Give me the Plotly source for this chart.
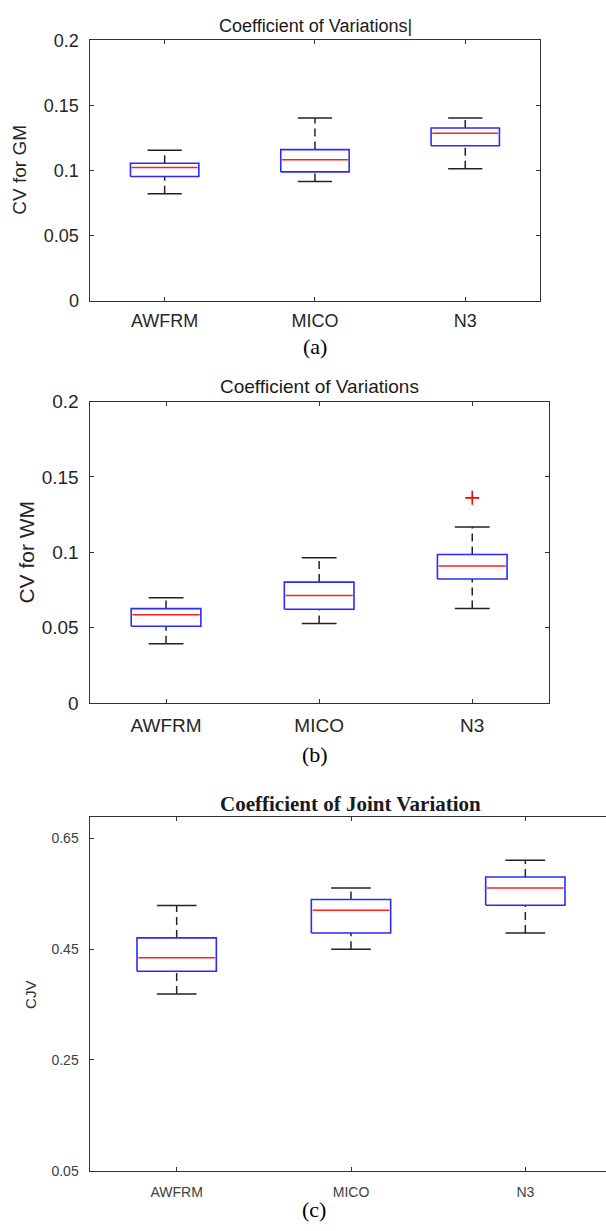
import plotly.graph_objects as go

# ---------------- data ----------------
categories = ["AWFRM", "MICO", "N3"]
positions = [1, 2, 3]

gm_lower = [0.0823, 0.0918, 0.1016]
gm_q1 = [0.0956, 0.0991, 0.1192]
gm_median = [0.1024, 0.1084, 0.1288]
gm_q3 = [0.1057, 0.1162, 0.1328]
gm_upper = [0.1157, 0.1404, 0.1404]
gm_outliers = [[], [], []]

wm_lower = [0.0393, 0.0528, 0.0626]
wm_q1 = [0.0509, 0.0622, 0.0822]
wm_median = [0.0585, 0.0713, 0.0909]
wm_q3 = [0.0626, 0.0802, 0.0985]
wm_upper = [0.0698, 0.0963, 0.1168]
wm_outliers = [[], [], [0.1361]]

cjv_lower = [0.3692, 0.4496, 0.4792]
cjv_q1 = [0.4100, 0.4792, 0.5293]
cjv_median = [0.4343, 0.5200, 0.5602]
cjv_q3 = [0.4703, 0.5395, 0.5802]
cjv_upper = [0.5288, 0.5602, 0.6104]
cjv_outliers = [[], [], []]

ticks_ab = [0, 0.05, 0.1, 0.15, 0.2]
ticktext_ab = ["0", "0.05", "0.1", "0.15", "0.2"]
ticks_c = [0.05, 0.25, 0.45, 0.65]
ticktext_c = ["0.05", "0.25", "0.45", "0.65"]

# ---------------- layout helpers ----------------
W, H = 606, 1231
def fx(px):
    return px / W
def fy(py):
    return 1 - py / H

BOX_W = 0.455
SANS = "Liberation Sans, Arial, sans-serif"
SERIF = "Liberation Serif, Times New Roman, serif"

fig = go.Figure()

def add_panel(xa, ya, lower, q1, med, q3, upper, outliers):
    xref = "x" if xa == 1 else f"x{xa}"
    yref = "y" if ya == 1 else f"y{ya}"
    for i, p in enumerate(positions):
        left, right = p - BOX_W / 2, p + BOX_W / 2
        # dashed whiskers
        for a, b in ((q3[i], upper[i]), (lower[i], q1[i])):
            fig.add_trace(go.Scatter(
                x=[p, p], y=[a, b], mode="lines",
                line=dict(color="#222222", width=1.5, dash="8px,5px"),
                showlegend=False, hoverinfo="skip", xaxis=xref, yaxis=yref))
        # caps
        for v in (upper[i], lower[i]):
            fig.add_trace(go.Scatter(
                x=[p - BOX_W / 4, p + BOX_W / 4], y=[v, v], mode="lines",
                line=dict(color="#222222", width=1.5),
                showlegend=False, hoverinfo="skip", xaxis=xref, yaxis=yref))
        # box (blue outline, q1..q3)
        fig.add_trace(go.Scatter(
            x=[left, right, right, left, left],
            y=[q1[i], q1[i], q3[i], q3[i], q1[i]], mode="lines",
            line=dict(color="#2a2aff", width=1.6),
            showlegend=False, hoverinfo="skip", xaxis=xref, yaxis=yref))
        # red median
        fig.add_trace(go.Scatter(
            x=[left + 0.008, right - 0.008], y=[med[i], med[i]],
            mode="lines", line=dict(color="#ff2020", width=1.5),
            showlegend=False, hoverinfo="skip", xaxis=xref, yaxis=yref))
        # outliers
        if outliers[i]:
            fig.add_trace(go.Scatter(
                x=[p] * len(outliers[i]), y=outliers[i], mode="markers",
                marker=dict(symbol="cross-thin", size=10,
                            line=dict(color="#ff0000", width=1.6)),
                showlegend=False, hoverinfo="skip", xaxis=xref, yaxis=yref))

add_panel(1, 1, gm_lower, gm_q1, gm_median, gm_q3, gm_upper, gm_outliers)
add_panel(2, 2, wm_lower, wm_q1, wm_median, wm_q3, wm_upper, wm_outliers)
add_panel(3, 3, cjv_lower, cjv_q1, cjv_median, cjv_q3, cjv_upper, cjv_outliers)

def xaxis_cfg(domain, rng, size, color, standoff):
    return dict(domain=domain, range=rng, tickvals=positions, ticktext=categories,
                ticks="inside", ticklen=4, tickcolor="#333333", showline=True,
                linecolor="#333333", linewidth=1, mirror="ticks", showgrid=False,
                zeroline=False, tickfont=dict(family=SANS, size=size, color=color),
                ticklabelstandoff=standoff, fixedrange=True)

def yaxis_cfg(domain, rng, tv, tt, size, color, anchor, mirror="ticks", standoff=4):
    return dict(domain=domain, range=rng, tickvals=tv, ticktext=tt,
                ticks="inside", ticklen=4, tickcolor="#333333", showline=True,
                linecolor="#333333", linewidth=1, mirror=mirror, showgrid=False,
                zeroline=False, tickfont=dict(family=SANS, size=size, color=color),
                ticklabelstandoff=standoff, anchor=anchor, fixedrange=True)

fig.update_layout(
    width=W, height=H, margin=dict(l=0, r=0, t=0, b=0),
    paper_bgcolor="white", plot_bgcolor="white", showlegend=False,
    xaxis=xaxis_cfg([fx(89.5), fx(540.4)], [0.5, 3.5], 18, "#262626", 3) | dict(anchor="y"),
    yaxis=yaxis_cfg([fy(296), fy(31)], [0, 0.2], ticks_ab, ticktext_ab, 18, "#262626", "x", standoff=6),
    xaxis2=xaxis_cfg([fx(89.5), fx(548.8)], [0.5, 3.5], 19, "#262626", 5) | dict(anchor="y2"),
    yaxis2=yaxis_cfg([fy(705), fy(398.3)], [0, 0.2], ticks_ab, ticktext_ab, 19, "#262626", "x2", standoff=6),
    xaxis3=xaxis_cfg([fx(89.5), 1.0], [0.5, 3.5 - 6.5 / 174.5], 14, "#404040", 8) | dict(anchor="y3"),
    yaxis3=yaxis_cfg([fy(1181), fy(821)], [0.05, 0.6884], ticks_c, ticktext_c, 14, "#404040", "x3",
                     mirror=False, standoff=7),
)

annots = [
    dict(text="Coefficient of Variations|", x=fx(315), y=fy(16),
         font=dict(family=SANS, size=18, color="#1a1a1a")),
    dict(text="Coefficient of Variations", x=fx(319), y=fy(383),
         font=dict(family=SANS, size=19, color="#1a1a1a")),
    dict(text="<b>Coefficient of Joint Variation</b>", x=fx(350), y=fy(807.5),
         font=dict(family=SERIF, size=21, color="#1a1a1a")),
    dict(text="CV for GM", x=fx(19.5), y=fy(163), textangle=-90,
         font=dict(family=SANS, size=19, color="#262626")),
    dict(text="CV for WM", x=fx(27), y=fy(552), textangle=-90,
         font=dict(family=SANS, size=21, color="#262626")),
    dict(text="CJV", x=fx(31), y=fy(1002), textangle=-90,
         font=dict(family=SANS, size=15, color="#333333")),
    dict(text="(a)", x=fx(315), y=fy(342.5),
         font=dict(family=SERIF, size=22, color="black")),
    dict(text="(b)", x=fx(315), y=fy(757),
         font=dict(family=SERIF, size=22, color="black")),
    dict(text="(c)", x=fx(314), y=fy(1220),
         font=dict(family=SERIF, size=22, color="black")),
]
for a in annots:
    fig.add_annotation(xref="paper", yref="paper", showarrow=False,
                       xanchor="center", yanchor="middle", **a)

fig.write_html("out.html")
